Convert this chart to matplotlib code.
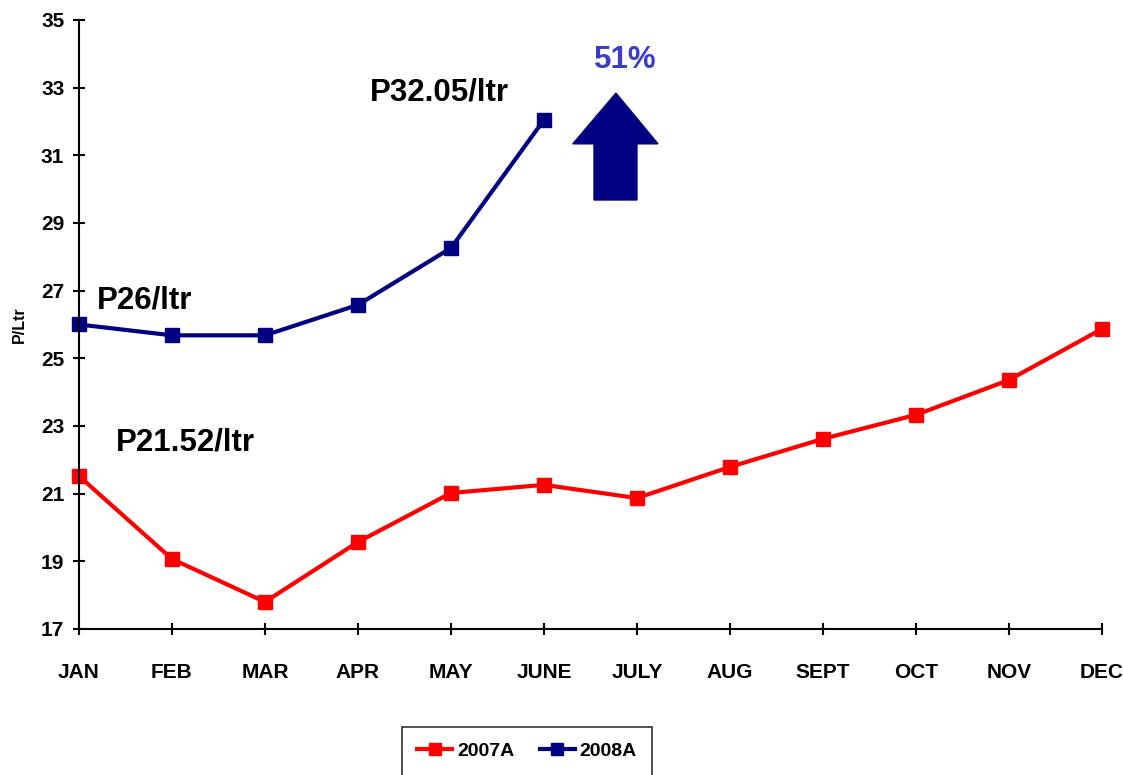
import matplotlib.pyplot as plt
from matplotlib.patches import Polygon

months = ['JAN', 'FEB', 'MAR', 'APR', 'MAY', 'JUNE', 'JULY', 'AUG', 'SEPT', 'OCT', 'NOV', 'DEC']
p2007 = [21.52, 19.07, 17.8, 19.57, 21.02, 21.26, 20.87, 21.79, 22.62, 23.33, 24.36, 25.87]
p2008 = [26.0, 25.68, 25.68, 26.58, 28.26, 32.05]
yticks = [17, 19, 21, 23, 25, 27, 29, 31, 33, 35]

font = ['Liberation Sans', 'DejaVu Sans']

fig = plt.figure(figsize=(11.23, 7.75), dpi=100)
ax = fig.add_axes([0.0703, 0.1884, 0.911, 0.7858])

x = list(range(len(months)))
ax.plot(x, p2007, color='#ff0000', lw=3, marker='s', ms=9.5, label='2007A', clip_on=False)
ax.plot(x[:len(p2008)], p2008, color='#000080', lw=3, marker='s', ms=9.5, label='2008A', clip_on=False)

ax.set_xlim(0, 11)
ax.set_ylim(17, 35)
ax.set_xticks(x)
ax.set_xticklabels(months)
ax.set_yticks(yticks)
for lab in ax.get_xticklabels() + ax.get_yticklabels():
    lab.set_family(font)
    lab.set_fontweight('bold')
    lab.set_fontsize(15)
ax.tick_params(direction='inout', length=9, width=1.5, pad=6)
ax.tick_params(axis='x', pad=20)
for s in ['top', 'right']:
    ax.spines[s].set_visible(False)
for s in ['left', 'bottom']:
    ax.spines[s].set_linewidth(1.5)
ax.set_ylabel('P/Ltr', fontsize=11.5, fontweight='bold', family=font, labelpad=10)

ax.text(3.88, 32.87, 'P32.05/ltr', fontsize=22.5, fontweight='bold', family=font, ha='center', va='center')
ax.text(0.71, 26.72, 'P26/ltr', fontsize=22.5, fontweight='bold', family=font, ha='center', va='center')
ax.text(1.14, 22.5, 'P21.52/ltr', fontsize=22.5, fontweight='bold', family=font, ha='center', va='center')
ax.text(5.87, 33.82, '51%', fontsize=22.5, fontweight='bold', family=font, color='#3b3bcc', ha='center', va='center')

arrow = Polygon([(5.538, 29.68), (6.0, 29.68), (6.0, 31.34), (6.226, 31.34),
                 (5.774, 32.84), (5.31, 31.34), (5.538, 31.34)],
                closed=True, color='#000080', clip_on=False)
ax.add_patch(arrow)

leg = fig.legend(loc='upper center', bbox_to_anchor=(0.4693, 0.0619), ncol=2,
                 frameon=True, fancybox=False, edgecolor='black',
                 prop={'family': font, 'weight': 'bold', 'size': 14},
                 handlelength=1.8, handletextpad=0.25, columnspacing=1.3,
                 borderpad=0.8, borderaxespad=0, markerscale=0.9)
leg.get_frame().set_linewidth(1.2)

fig.savefig('out.png', dpi=100)
